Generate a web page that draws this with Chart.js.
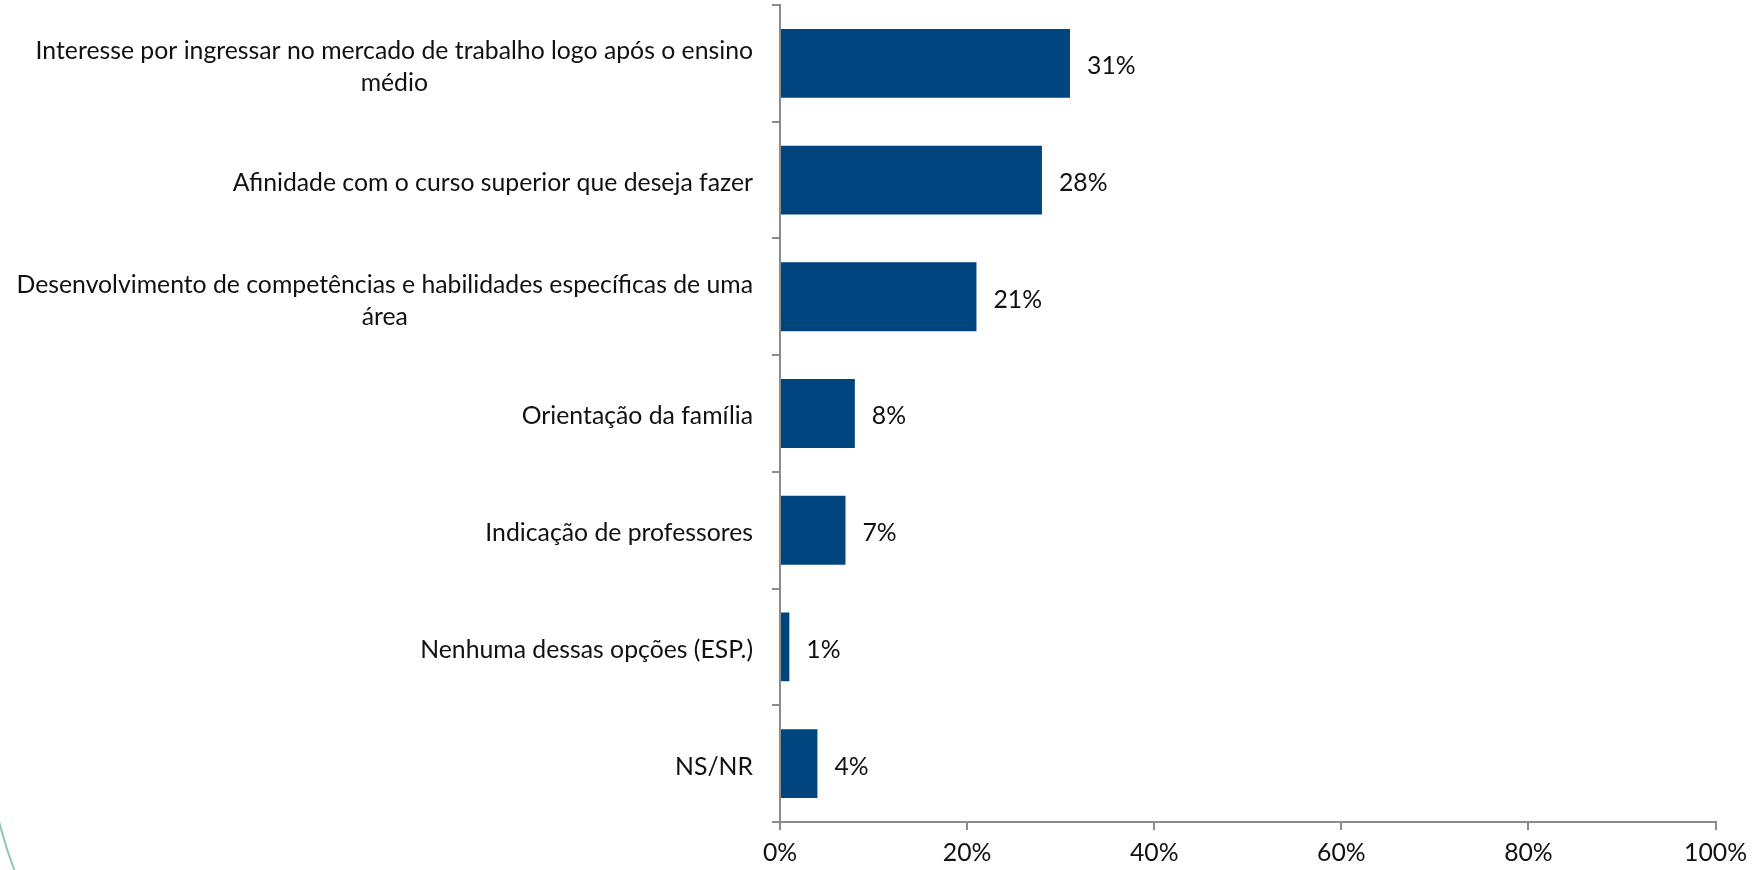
<!DOCTYPE html>
<html>
<head>
<meta charset="utf-8">
<script src="https://cdn.jsdelivr.net/npm/chart.js@4.4.0/dist/chart.umd.min.js"></script>
<style>
  html, body { margin: 0; padding: 0; background: #ffffff; }
  #wrap { position: relative; width: 1755px; height: 870px; }
</style>
</head>
<body>
<div id="wrap"><canvas id="c" width="1755" height="870"></canvas></div>
<script>
const categories = [
  ['Interesse por ingressar no mercado de trabalho logo após o ensino', 'médio'],
  'Afinidade com o curso superior que deseja fazer ',
  ['Desenvolvimento de competências e habilidades específicas de uma', 'área'],
  'Orientação da família',
  'Indicação de professores',
  'Nenhuma dessas opções (ESP.)',
  'NS/NR'
];
const values = [31, 28, 21, 8, 7, 1, 4];
const xTicks = [0, 20, 40, 60, 80, 100];

const FONT_FAMILY = 'Lato, "Open Sans", sans-serif';
// fit font size so the widest label line matches the reference width
const mctx = document.createElement('canvas').getContext('2d');
mctx.font = '100px ' + FONT_FAMILY;
const refW = mctx.measureText('Desenvolvimento de competências e habilidades específicas de uma').width;
const FS = Math.max(18, Math.min(28, 100 * 737 / refW));

const AXIS_COLOR = '#8c8c8c';
const TEXT_COLOR = '#111111';
const TEXT_DY = 3;

const yLabelPlugin = {
  id: 'yLabels',
  afterDraw(chart) {
    const ctx = chart.ctx;
    const ys = chart.scales.y;
    const right = chart.chartArea.left - 27;
    ctx.save();
    ctx.font = FS + 'px ' + FONT_FAMILY;
    ctx.fillStyle = TEXT_COLOR;
    ctx.textBaseline = 'middle';
    categories.forEach((lab, i) => {
      const lines = Array.isArray(lab) ? lab : [lab];
      const w = Math.max(...lines.map(l => ctx.measureText(l.trimEnd()).width));
      const cx = right - w / 2;
      const cy = ys.getPixelForTick(i) + TEXT_DY + (lines.length > 1 ? 1 : 0);
      const gap = 32;
      lines.forEach((l, j) => {
        const ly = cy + (j - (lines.length - 1) / 2) * gap;
        if (lines.length === 1) {
          ctx.textAlign = 'right';
          ctx.fillText(l.trimEnd(), right, ly);
        } else {
          ctx.textAlign = 'center';
          ctx.fillText(l.trimEnd(), cx, ly);
        }
      });
    });
    ctx.restore();
  }
};

const dataLabelPlugin = {
  id: 'dataLabels',
  afterDatasetsDraw(chart) {
    const ctx = chart.ctx;
    const meta = chart.getDatasetMeta(0);
    ctx.save();
    ctx.font = FS + 'px ' + FONT_FAMILY;
    ctx.fillStyle = TEXT_COLOR;
    ctx.textAlign = 'left';
    ctx.textBaseline = 'middle';
    meta.data.forEach((bar, i) => {
      ctx.fillText(values[i] + '%', bar.x + 17, bar.y + TEXT_DY);
    });
    ctx.restore();
  }
};

const decoPlugin = {
  id: 'deco',
  beforeDraw(chart) {
    const ctx = chart.ctx;
    ctx.save();
    ctx.strokeStyle = '#92c9bd';
    ctx.lineWidth = 2;
    ctx.beginPath();
    ctx.moveTo(-6, 800);
    ctx.quadraticCurveTo(2, 838, 15, 872);
    ctx.stroke();
    ctx.restore();
  }
};

new Chart(document.getElementById('c'), {
  type: 'bar',
  data: {
    labels: categories,
    datasets: [{
      data: values,
      backgroundColor: '#01457f',
      borderWidth: 0,
      categoryPercentage: 1,
      barPercentage: 0.59
    }]
  },
  plugins: [decoPlugin, yLabelPlugin, dataLabelPlugin],
  options: {
    indexAxis: 'y',
    responsive: false,
    animation: false,
    devicePixelRatio: 1,
    layout: { padding: { top: 5, right: 33, bottom: 0, left: 0 } },
    plugins: { legend: { display: false }, tooltip: { enabled: false } },
    scales: {
      y: {
        type: 'category',
        offset: true,
        ticks: { display: false },
        grid: { drawOnChartArea: false, drawTicks: true, tickLength: 8, color: AXIS_COLOR, lineWidth: 2, offset: true },
        border: { display: true, color: AXIS_COLOR, width: 2 },
        afterFit(s) { s.width = 780; }
      },
      x: {
        type: 'linear',
        min: 0,
        max: 100,
        afterBuildTicks(s) { s.ticks = xTicks.map(v => ({ value: v })); },
        ticks: {
          callback: v => v + '%',
          color: TEXT_COLOR,
          font: { family: FONT_FAMILY, size: FS },
          padding: 8,
          maxRotation: 0
        },
        grid: { drawOnChartArea: false, drawTicks: true, tickLength: 8, color: AXIS_COLOR, lineWidth: 2 },
        border: { display: true, color: AXIS_COLOR, width: 2 },
        afterFit(s) { s.height = 48; }
      }
    }
  }
});
</script>
</body>
</html>
